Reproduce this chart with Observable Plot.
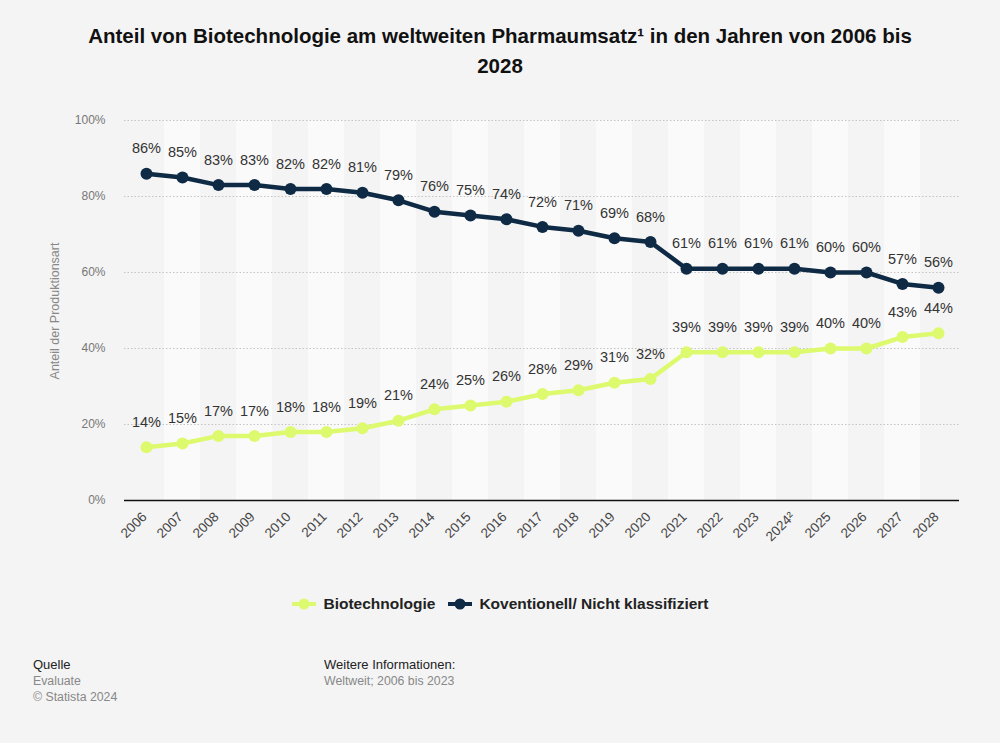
<!DOCTYPE html>
<html>
<head>
<meta charset="utf-8">
<script src="https://cdn.jsdelivr.net/npm/d3@7"></script>
<script src="https://cdn.jsdelivr.net/npm/@observablehq/plot@0.6"></script>
<style>
  html, body { margin: 0; padding: 0; background: #f4f4f4; }
  body { width: 1000px; height: 743px; position: relative; overflow: hidden; font-family: "Liberation Sans", Arial, sans-serif; }
  #chart { position: absolute; left: 0; top: 0; }
  .title { position: absolute; left: 0; width: 1000px; top: 21px; text-align: center; font-weight: bold; font-size: 20.5px; line-height: 30px; color: #111; }
  .legend { position: absolute; top: 595px; left: 0; width: 1000px; text-align: center; font-size: 15.5px; font-weight: bold; color: #222; }
  .legend span.item { display: inline-flex; align-items: center; margin: 0 6px; }
  .legend svg { margin-right: 6px; }
  .foot { position: absolute; line-height: 16px; }
  .foot .h { color: #222; font-size: 13px; }
  .foot .g { color: #888; font-size: 12.3px; }
  .ylab { position: absolute; left: 55px; top: 311px; transform: translate(-50%, -50%) rotate(-90deg); font-size: 12.5px; color: #888; white-space: nowrap; }
</style>
</head>
<body>
<div id="chart"></div>
<div class="title">Anteil von Biotechnologie am weltweiten Pharmaumsatz¹ in den Jahren von 2006 bis<br>2028</div>
<div class="ylab">Anteil der Produktionsart</div>
<div class="legend" id="legend"></div>
<div class="foot" style="left:33px; top:657px;">
  <div class="h">Quelle</div>
  <div class="g">Evaluate</div>
  <div class="g">© Statista 2024</div>
</div>
<div class="foot" style="left:324px; top:657px;">
  <div class="h">Weitere Informationen:</div>
  <div class="g">Weltweit; 2006 bis 2023</div>
</div>
<script>
const years = ["2006","2007","2008","2009","2010","2011","2012","2013","2014","2015","2016","2017","2018","2019","2020","2021","2022","2023","2024²","2025","2026","2027","2028"];
const biotech = [14,15,17,17,18,18,19,21,24,25,26,28,29,31,32,39,39,39,39,40,40,43,44];
const konventionell = [86,85,83,83,82,82,81,79,76,75,74,72,71,69,68,61,61,61,61,60,60,57,56];
const yTicks = [0,20,40,60,80,100];
const seriesNames = ["Biotechnologie", "Koventionell/ Nicht klassifiziert"];
const colors = ["#ddf96e", "#0e2a44"];

const bioData = years.map((y, i) => ({year: y, value: biotech[i], series: seriesNames[0]}));
const konvData = years.map((y, i) => ({year: y, value: konventionell[i], series: seriesNames[1]}));
const bands = years.map((y, i) => ({year: y, odd: i % 2 === 1}));

const chart = Plot.plot({
  width: 1000,
  height: 743,
  marginLeft: 124,
  marginRight: 41,
  marginTop: 120,
  marginBottom: 243,
  style: {background: "transparent", fontFamily: "Liberation Sans, Arial, sans-serif"},
  x: {type: "band", domain: years, padding: 0, label: null},
  y: {domain: [0, 100], label: null},
  marks: [
    Plot.barY(bands, {x: "year", y1: 0, y2: 100, fill: d => d.odd ? "#fafafa" : "#f4f4f4", inset: 0}),
    Plot.ruleY(yTicks.filter(t => t > 0), {stroke: "#c4c4c4", strokeDasharray: "1.5,2", strokeWidth: 1}),
    Plot.ruleY([0], {stroke: "#111", strokeWidth: 1.5}),
    Plot.axisY({ticks: yTicks, tickSize: 0, tickPadding: 19, tickFormat: d => d + "%", fontSize: 12, fill: "#777", label: null}),
    Plot.axisX({tickSize: 0, tickRotate: -45, tickPadding: 14, dx: -2, fontSize: 13.5, fill: "#444", label: null}),
    Plot.line(bioData, {x: "year", y: "value", stroke: colors[0], strokeWidth: 4.5}),
    Plot.dot(bioData, {x: "year", y: "value", fill: colors[0], r: 6}),
    Plot.line(konvData, {x: "year", y: "value", stroke: colors[1], strokeWidth: 4.5}),
    Plot.dot(konvData, {x: "year", y: "value", fill: colors[1], r: 6}),
    Plot.text(bioData, {x: "year", y: "value", text: d => d.value + "%", dy: -25, fontSize: 14.5, fill: "#333"}),
    Plot.text(konvData, {x: "year", y: "value", text: d => d.value + "%", dy: -25, fontSize: 14.5, fill: "#333"})
  ]
});
document.getElementById("chart").appendChild(chart);

const legend = document.getElementById("legend");
seriesNames.forEach((name, i) => {
  const item = document.createElement("span");
  item.className = "item";
  item.innerHTML = `<svg width="26" height="12"><line x1="1" y1="6" x2="25" y2="6" stroke="${colors[i]}" stroke-width="4"/><circle cx="13" cy="6" r="5.5" fill="${colors[i]}"/></svg>${name}`;
  legend.appendChild(item);
});
</script>
</body>
</html>
